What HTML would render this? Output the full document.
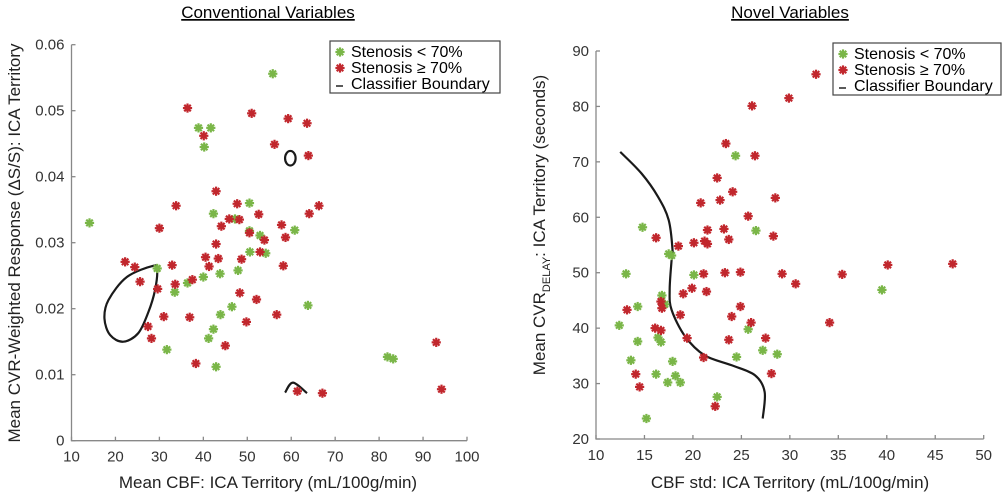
<!DOCTYPE html>
<html><head><meta charset="utf-8">
<style>
html,body{margin:0;padding:0;background:#fff;}
svg{display:block;font-family:"Liberation Sans",Arial,sans-serif;}
</style></head>
<body>
<svg id="fig" width="1004" height="495" viewBox="0 0 1004 495" xmlns="http://www.w3.org/2000/svg">
<g id="left"></g>
<g id="right"></g>
</svg>
<script>
// ---- Left chart data: Mean CBF (x) vs CVR-weighted response (y)
const leftGreenX = [14.1,55.8,38.9,41.7,40.2,50.5,42.3,47.2,60.8,52.9,50.5,29.5,33.5,36.4,40.0,43.8,47.9,50.6,54.2,46.5,63.8,43.9,42.3,41.2,31.7,42.9,81.9,83.2];
const leftGreenY = [0.0330,0.0556,0.0474,0.0474,0.0445,0.0360,0.0344,0.0336,0.0319,0.0311,0.0318,0.0261,0.0225,0.0239,0.0248,0.0253,0.0258,0.0286,0.0284,0.0203,0.0205,0.0191,0.0169,0.0155,0.0138,0.0112,0.0127,0.0124];
const leftRedX = [36.4,40.1,51.0,59.3,63.6,56.2,63.9,42.9,33.8,47.7,45.9,48.2,52.6,44.1,64.1,66.3,57.8,58.7,50.5,53.9,42.9,30.0,22.2,24.4,25.6,29.6,32.9,33.6,37.5,40.5,41.3,43.4,48.7,52.9,58.2,48.3,52.1,56.7,49.8,31.0,36.9,27.4,28.2,45.0,38.3,93.0,94.2,61.4,67.1];
const leftRedY = [0.0504,0.0462,0.0496,0.0488,0.0481,0.0449,0.0432,0.0378,0.0356,0.0359,0.0336,0.0335,0.0343,0.0325,0.0344,0.0356,0.0327,0.0308,0.0315,0.0304,0.0298,0.0322,0.0271,0.0263,0.0241,0.0230,0.0266,0.0237,0.0244,0.0278,0.0264,0.0276,0.0275,0.0286,0.0265,0.0224,0.0214,0.0191,0.0180,0.0188,0.0187,0.0173,0.0155,0.0144,0.0117,0.0149,0.0078,0.0075,0.0072];
const leftLoopX = [28.6,22.6,18.4,17.5,18.8,21.8,25.2,27.5,29.0,29.5];
const leftLoopY = [0.0265,0.0248,0.0213,0.0185,0.0160,0.0150,0.0163,0.0195,0.0228,0.0259];
const leftArcX = [58.6,60.4,63.6];
const leftArcY = [0.0073,0.0088,0.0072];
const leftEllipse = [59.8,0.0428,1.2,0.0011]; // cx, cy, rx, ry (data units)
const leftXTicks = [10,20,30,40,50,60,70,80,90,100];
const leftYTicks = [0,0.01,0.02,0.03,0.04,0.05,0.06];
const leftYTickLabels = ["0","0.01","0.02","0.03","0.04","0.05","0.06"];

// ---- Right chart data: CBF std (x) vs CVR delay (y)
const rightGreenX = [24.4,14.8,26.5,17.5,17.8,13.1,20.1,39.5,16.8,17.1,14.3,12.4,25.7,16.4,16.7,14.3,27.2,28.7,24.5,13.6,17.9,16.2,18.2,17.4,18.7,22.5,15.2];
const rightGreenY = [71.1,58.2,57.6,53.4,53.1,49.8,49.6,46.9,45.9,44.3,43.9,40.5,39.8,38.3,37.5,37.6,36.0,35.3,34.8,34.2,34.0,31.7,31.4,30.2,30.2,27.6,23.7];
const rightRedX = [32.7,29.9,26.1,23.4,26.4,22.5,24.1,22.8,20.8,28.5,25.7,16.2,21.5,23.2,28.3,23.7,18.5,20.1,21.2,21.5,21.1,23.3,24.9,29.2,35.4,40.1,46.8,30.6,19.9,19.0,21.4,16.7,16.8,13.2,24.9,18.7,24.0,26.0,34.1,16.1,16.7,19.4,23.7,27.5,21.1,14.1,28.1,14.5,22.3];
const rightRedY = [85.8,81.5,80.1,73.3,71.1,67.1,64.6,63.1,62.6,63.5,60.2,56.3,57.7,57.9,56.6,56.0,54.8,55.4,55.7,55.2,49.8,50.0,50.1,49.8,49.7,51.4,51.6,48.0,47.2,46.2,46.6,44.8,43.6,43.3,43.9,42.4,42.1,41.0,41.0,40.0,39.6,38.2,37.9,38.2,34.7,31.7,31.8,29.4,25.9];
const rightCurveX = [12.5,14.7,16.4,17.5,17.9,17.8,17.6,17.8,19.2,21.2,24.0,26.4,27.4,27.2];
const rightCurveY = [71.8,67.9,63.7,59.5,54.0,52.3,46.9,43.3,38.5,35.1,33.3,31.5,28.5,23.7];
const rightXTicks = [10,15,20,25,30,35,40,45,50];
const rightYTicks = [20,30,40,50,60,70,80,90];

const NS = "http://www.w3.org/2000/svg";
const GREEN = "#7ab648", RED = "#c1272d";
function mk(tag, attrs, parent){ const e=document.createElementNS(NS,tag); for(const k in attrs) e.setAttribute(k,attrs[k]); parent.appendChild(e); return e; }
function lin(d0,d1,p0,p1){ return v => p0 + (v-d0)*(p1-p0)/(d1-d0); }

function star(g, x, y, color){
  const s = mk('g',{stroke:color,'stroke-width':2.2,'stroke-linecap':'butt'},g);
  
  
  const r=4.6;
  for(let i=0;i<4;i++){ const a=i*Math.PI/4; mk('line',{x1:x-r*Math.cos(a),y1:y-r*Math.sin(a),x2:x+r*Math.cos(a),y2:y+r*Math.sin(a)},s); }
}
function smoothPath(pts, closed){
  const n=pts.length; let d=`M${pts[0][0]},${pts[0][1]}`;
  const get=i=> closed ? pts[(i+n)%n] : pts[Math.max(0,Math.min(n-1,i))];
  const segs = closed ? n : n-1;
  for(let i=0;i<segs;i++){
    const p0=get(i-1),p1=get(i),p2=get(i+1),p3=get(i+2);
    const c1=[p1[0]+(p2[0]-p0[0])/6,p1[1]+(p2[1]-p0[1])/6];
    const c2=[p2[0]-(p3[0]-p1[0])/6,p2[1]-(p3[1]-p1[1])/6];
    d+=` C${c1[0]},${c1[1]} ${c2[0]},${c2[1]} ${p2[0]},${p2[1]}`;
  }
  return d+(closed?'Z':'');
}
function axes(g, xs, ys, xTicks, yTicks, yLabels, x0, x1, y0, y1){
  const ax = mk('g',{stroke:'#888','stroke-width':1.3,fill:'none'},g);
   
  mk('path',{d:`M${x0},${y1} V${y0} H${x1}`},ax);
  xTicks.forEach(t=>{ mk('line',{x1:xs(t),x2:xs(t),y1:y0,y2:y0-4},ax); });
  yTicks.forEach(t=>{ mk('line',{x1:x0,x2:x0+4,y1:ys(t),y2:ys(t)},ax); });
  xTicks.forEach(t=>{ const e=mk('text',{x:xs(t),y:y0+21,'text-anchor':'middle','font-size':15,fill:'#333'},g); e.textContent=t;
      });
  yTicks.forEach((t,i)=>{ const e=mk('text',{x:x0-7,y:ys(t)+5,'text-anchor':'end','font-size':15,fill:'#333'},g); e.textContent=yLabels?yLabels[i]:t;
      });
}
function legend(g, x, y, w){
  const L = mk('g',{},g);
   
  mk('rect',{x:x,y:y,width:w,height:52,fill:'#fff',stroke:'#444','stroke-width':1.2},L);
  const items=[[GREEN,'Stenosis < 70%'],[RED,'Stenosis \u2265 70%'],[null,'Classifier Boundary']];
  items.forEach((it,i)=>{
    const cy=y+10+i*16;
    if(it[0]) star(L,x+10,cy+1,it[0]); else mk('line',{x1:x+6,x2:x+13,y1:cy+3,y2:cy+3,stroke:'#222','stroke-width':1.5},L);
    const t=mk('text',{x:x+21,y:cy+6,'font-size':16,fill:'#000'},L); t.textContent=it[1];
     
  });
}
function title(g, x, text){
  const t=mk('text',{x:x,y:18,'text-anchor':'middle','font-size':17,fill:'#000','text-decoration':'underline'},g);
  t.textContent=text;  
}

// ---- Left chart
(function(){
  const g=document.getElementById('left');
  const xs=lin(10,100,71.5,467), ys=lin(0,0.06,440.7,44.7);
  title(g,268,'Conventional Variables');
  axes(g,xs,ys,leftXTicks,leftYTicks,leftYTickLabels,71.5,467,440.7,44.7);
  const loop = mk('path',{d:smoothPath(leftLoopX.map((v,i)=>[xs(v),ys(leftLoopY[i])]),true),fill:'none',stroke:'#1a1a1a','stroke-width':2.2},g);
   
  const el = mk('ellipse',{cx:xs(leftEllipse[0]),cy:ys(leftEllipse[1]),rx:xs(leftEllipse[0]+leftEllipse[2])-xs(leftEllipse[0]),ry:ys(leftEllipse[1])-ys(leftEllipse[1]+leftEllipse[3]),fill:'none',stroke:'#1a1a1a','stroke-width':2.2},g);
   
  const arc = mk('path',{d:smoothPath(leftArcX.map((v,i)=>[xs(v),ys(leftArcY[i])]),false),fill:'none',stroke:'#1a1a1a','stroke-width':2.2},g);
   
  leftGreenX.forEach((v,i)=>star(g,xs(v),ys(leftGreenY[i]),GREEN));
  leftRedX.forEach((v,i)=>star(g,xs(v),ys(leftRedY[i]),RED));
  legend(g,330,41,170);
  const xt=mk('text',{x:268,y:488,'text-anchor':'middle','font-size':17,fill:'#222'},g);
  xt.textContent='Mean CBF: ICA Territory (mL/100g/min)';
   
  const yt=mk('text',{x:0,y:0,'text-anchor':'middle','font-size':17,fill:'#222',transform:'translate(20,243) rotate(-90)'},g);
  yt.textContent='Mean CVR-Weighted Response (\u0394S/S): ICA Territory';
   
})();

// ---- Right chart
(function(){
  const g=document.getElementById('right');
  const xs=lin(10,50,596,983.7), ys=lin(20,90,439,51);
  title(g,790,'Novel Variables');
  axes(g,xs,ys,rightXTicks,rightYTicks,null,596,983.7,439,51);
  const c = mk('path',{d:smoothPath(rightCurveX.map((v,i)=>[xs(v),ys(rightCurveY[i])]),false),fill:'none',stroke:'#1a1a1a','stroke-width':2.2},g);
   
  rightGreenX.forEach((v,i)=>star(g,xs(v),ys(rightGreenY[i]),GREEN));
  rightRedX.forEach((v,i)=>star(g,xs(v),ys(rightRedY[i]),RED));
  legend(g,833,43,168);
  const xt=mk('text',{x:790,y:488,'text-anchor':'middle','font-size':17,fill:'#222'},g);
  xt.textContent='CBF std: ICA Territory (mL/100g/min)';
   
  const yt=mk('text',{x:0,y:0,'text-anchor':'middle','font-size':17,fill:'#222',transform:'translate(545,225) rotate(-90)'},g);
   
  const a=mk('tspan',{},yt); a.textContent='Mean CVR';
  const b=mk('tspan',{'font-size':11,dy:5},yt); b.textContent='DELAY';
  const c2=mk('tspan',{dy:-5},yt); c2.textContent=': ICA Territory (seconds)';
})();
</script>
</body></html>
